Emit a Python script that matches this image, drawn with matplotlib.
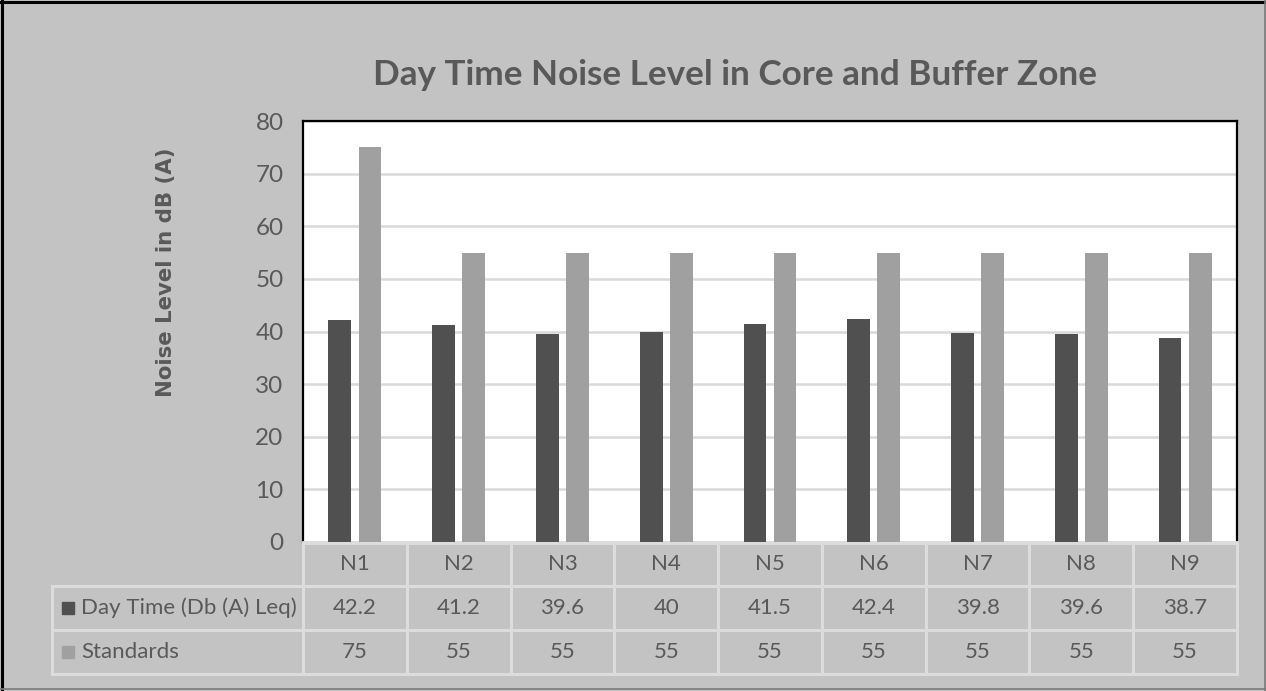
import matplotlib.pyplot as plt
import numpy as np
from matplotlib.transforms import blended_transform_factory
from matplotlib.lines import Line2D
from matplotlib.patches import Rectangle

sites = ["N1", "N2", "N3", "N4", "N5", "N6", "N7", "N8", "N9"]
day_time = [42.2, 41.2, 39.6, 40, 41.5, 42.4, 39.8, 39.6, 38.7]
standards = [75, 55, 55, 55, 55, 55, 55, 55, 55]
series_names = ["Day Time (Db (A) Leq)", "Standards"]

bg = "#c3c3c3"
dark = "#505050"
light = "#a0a0a0"
txt = "#595959"
cell_line = "#dcdcdc"

W, H = 1266, 691
fig = plt.figure(figsize=(W / 100, H / 100), dpi=100, facecolor=bg)

# plot area in pixels
left, right, top, bottom = 303, 1237, 121, 542
ax = fig.add_axes([left / W, 1 - bottom / H, (right - left) / W, (bottom - top) / H])
ax.set_facecolor("white")

x = np.arange(len(sites))
bw = 0.22
ax.bar(x - 0.145, day_time, bw, color=dark, zorder=3)
ax.bar(x + 0.145, standards, bw, color=light, zorder=3)

ax.set_xlim(-0.5, len(sites) - 0.5)
ax.set_ylim(0, 80)
ax.set_yticks(range(0, 81, 10))
ax.yaxis.grid(True, color="#d9d9d9", lw=1.8, zorder=0)
ax.set_xticks([])
ax.tick_params(axis="y", length=0, pad=14, labelsize=17.5, labelcolor=txt)
for lbl in ax.get_yticklabels():
    lbl.set_family("Lato")
for s in ["left", "top", "right"]:
    ax.spines[s].set_color("black")
    ax.spines[s].set_linewidth(1.6)
ax.spines["bottom"].set_color(cell_line)
ax.spines["bottom"].set_linewidth(2)

fig.text(735 / W, 1 - 75 / H, "Day Time Noise Level in Core and Buffer Zone",
         ha="center", va="center", fontsize=25.3, fontweight="bold",
         color=txt, family="Lato")
fig.text(166 / W, 1 - 272 / H, "Noise Level in dB (A)", rotation=90,
         ha="center", va="center", fontsize=15.3, fontweight="bold",
         color=txt, family="DejaVu Sans")

# data table below the plot
ov = fig.add_axes([0, 0, 1, 1], facecolor="none")
ov.set_xlim(0, W)
ov.set_ylim(H, 0)
ov.axis("off")
tr = blended_transform_factory(ax.transData, ov.transData)

rows_y = [543, 586, 630, 674]
row_c = [564, 608, 652]
lw = 2.2
# horizontal lines
ov.add_line(Line2D([-0.5, len(sites) - 0.5], [rows_y[0]] * 2, color=cell_line, lw=lw, transform=tr))
for yy in rows_y[1:]:
    ov.add_line(Line2D([52, right], [yy, yy], color=cell_line, lw=lw))
# vertical lines
for i in range(len(sites) + 1):
    ov.add_line(Line2D([i - 0.5, i - 0.5], [rows_y[0], rows_y[-1]], color=cell_line, lw=lw, transform=tr))
ov.add_line(Line2D([52, 52], [rows_y[1], rows_y[-1]], color=cell_line, lw=lw))

fs = 16
for i, s in enumerate(sites):
    ov.text(i, row_c[0], s, transform=tr, ha="center", va="center",
            fontsize=fs, color=txt, family="Lato")
    ov.text(i, row_c[1], f"{day_time[i]:g}", transform=tr, ha="center", va="center",
            fontsize=fs, color=txt, family="Lato")
    ov.text(i, row_c[2], f"{standards[i]:g}", transform=tr, ha="center", va="center",
            fontsize=fs, color=txt, family="Lato")

for name, col, yc in zip(series_names, [dark, light], row_c[1:]):
    ov.add_patch(Rectangle((62, yc - 6), 12, 12, color=col))
    ov.text(81, yc, name, ha="left", va="center", fontsize=fs, color=txt, family="Lato")

# outer frame
ov.add_line(Line2D([1.5, 1.5], [0, H], color="black", lw=2.2))
ov.add_line(Line2D([0, W], [1.5, 1.5], color="black", lw=2.2))
ov.add_line(Line2D([W - 1.5, W - 1.5], [0, H], color="#7a7a7a", lw=1.2))
ov.add_line(Line2D([0, W], [H - 2, H - 2], color="#7a7a7a", lw=1.2))

fig.savefig("out.png", dpi=100, facecolor=bg)
